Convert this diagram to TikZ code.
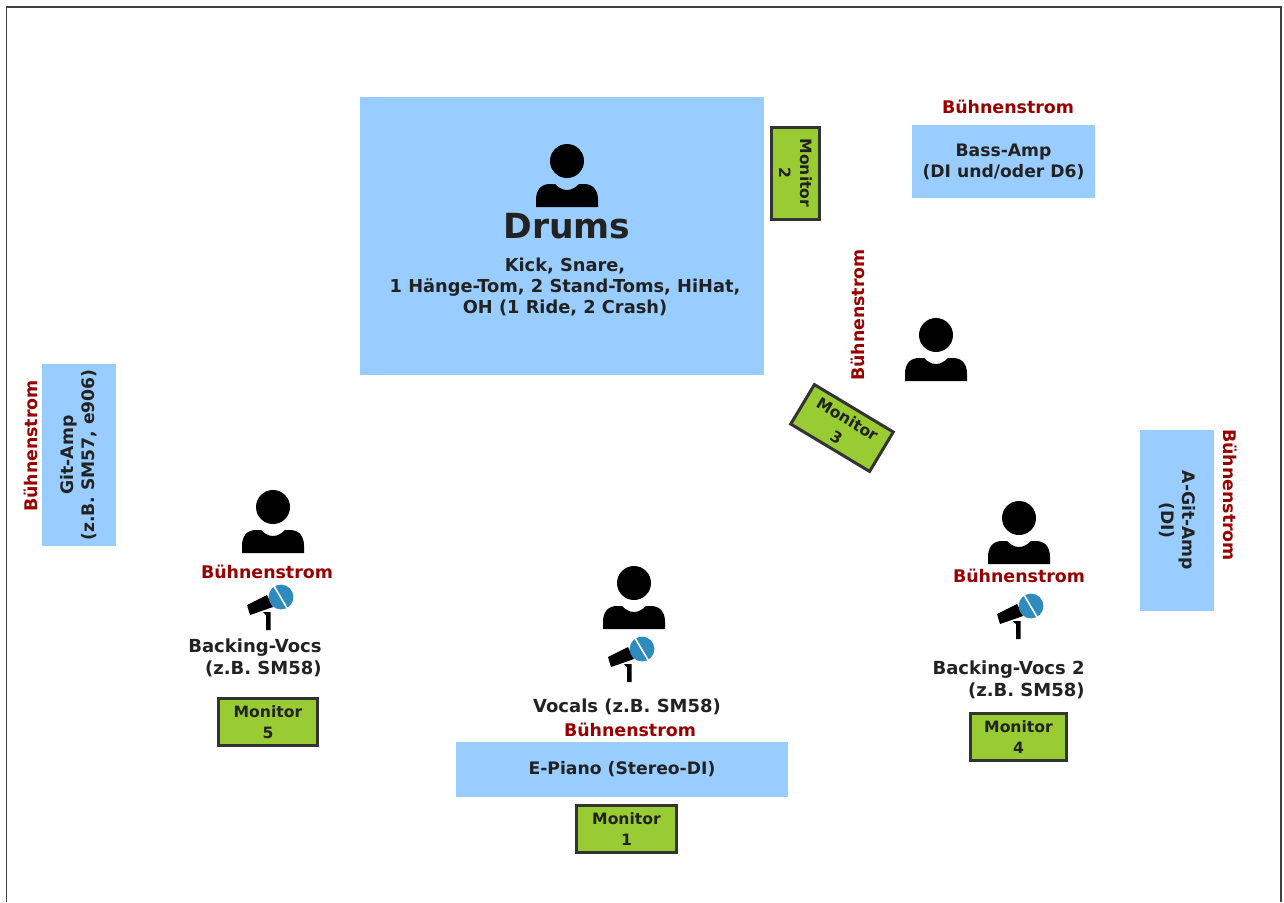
\documentclass[tikz,border=0pt]{standalone}
\usepackage{fontspec}
\setmainfont{DejaVu Sans}
\definecolor{areablue}{HTML}{99CCFF}
\definecolor{monitorgreen}{HTML}{99CC33}
\definecolor{powerred}{HTML}{990000}
\definecolor{micblue}{HTML}{2E8BC0}
\definecolor{labelblack}{HTML}{222222}
\tikzset{
  area/.style={fill=areablue, text=labelblack, font=\bfseries\fontsize{8.6}{10.5}\selectfont, align=center, inner sep=0pt},
  monitor/.style={draw=black!80, line width=1.5pt, fill=monitorgreen, text=labelblack, font=\bfseries\fontsize{7.8}{10.5}\selectfont, align=center, inner sep=0pt},
  power/.style={text=powerred, font=\bfseries\fontsize{8.7}{10}\selectfont, inner sep=0pt},
  vocal/.style={text=labelblack, font=\bfseries\fontsize{9}{11}\selectfont, inner sep=0pt},
  person/.pic={
    \fill[black] (0,0) circle (8.5pt);
    \fill[black] (-31,46) -- (-31,39) .. controls (-31,29) and (-26,23) .. (-17,23) -- (-12,23)
      .. controls (-9,26) and (-5,29) .. (0,29) .. controls (5,29) and (9,26) .. (12,23) -- (17,23)
      .. controls (26,23) and (31,29) .. (31,39) -- (31,46) -- cycle;
  },
  mic/.pic={
    \fill[black] (-34,8) -- (-14,-2) -- (-8,10) -- (-31,18) -- cycle;
    \fill[black] (-18,15) -- (-10.5,15) -- (-10.5,33) -- (-15,33) -- (-15,18) -- cycle;
    \fill[micblue] (0,0) circle (6.2pt);
    \draw[white, line width=0.8pt] (-7,-11) -- (6,11);
  }
}
\begin{document}
\begin{tikzpicture}[x=0.5pt, y=-0.5pt]
  \useasboundingbox (0,0) rectangle (1284,902);
  \draw[black!75, line width=0.7pt] (6.5,902) -- (6.5,7) -- (1281,7) -- (1281,902);

  % Buehne
  \node[area, minimum width=202pt, minimum height=139pt] (drumsbox) at (562,236) {};
  \node[area, minimum width=91.5pt, minimum height=36.5pt] (bassamp) at (1003.5,161.5) {Bass-Amp\\(DI und/oder D6)};
  \node[area, rotate=90, minimum width=91pt, minimum height=37pt] (gitamp) at (79,455) {Git-Amp\\(z.B. SM57, e906)};
  \node[area, rotate=-90, minimum width=90.5pt, minimum height=37pt] (agitamp) at (1177,520.5) {A-Git-Amp\\(DI)};
  \node[area, minimum width=166pt, minimum height=27.5pt] (epiano) at (622,769.5) {E-Piano (Stereo-DI)};

  \node[text=labelblack, font=\bfseries\fontsize{17.3}{20}\selectfont, inner sep=0pt] (drumstitle) at (567,226) {Drums};
  \node[text=labelblack, font=\bfseries\fontsize{8.9}{10.5}\selectfont, align=center, inner sep=0pt, below=0pt] (drumskit) at (565,258) {Kick, Snare,\\1 Hänge-Tom, 2 Stand-Toms, HiHat,\\OH (1 Ride, 2 Crash)};

  % Monitore
  \node[monitor, rotate=-90, minimum width=46pt, minimum height=24pt] (monitortwo) at (795.5,173) {Monitor\\2};
  \node[monitor, rotate=-31, minimum width=46pt, minimum height=23pt] (monitorthree) at (842,428) {Monitor\\3};
  \node[monitor, minimum width=49.5pt, minimum height=23.5pt] (monitorfive) at (268,722) {Monitor\\5};
  \node[monitor, minimum width=50pt, minimum height=23.5pt] (monitorone) at (626.5,829) {Monitor\\1};
  \node[monitor, minimum width=48pt, minimum height=23.5pt] (monitorfour) at (1018.5,737) {Monitor\\4};

  % Strom
  \node[power] (powerbass) at (1008,107) {Bühnenstrom};
  \node[power, rotate=90] (powerguitar) at (858,315) {Bühnenstrom};
  \node[power, rotate=90] (powergit) at (31,446) {Bühnenstrom};
  \node[power, rotate=-90] (poweragit) at (1230,495) {Bühnenstrom};
  \node[power] (powerback) at (267,572) {Bühnenstrom};
  \node[power] (powerbacktwo) at (1019,576) {Bühnenstrom};
  \node[power] (powerpiano) at (630,730) {Bühnenstrom};

  % Personen und Mikros
  \foreach \px/\py in {567/161, 936/335, 273/507, 634/583, 1019/518}
    \pic at (\px,\py) {person};
  \foreach \mx/\my in {281/597, 642/649, 1031/606}
    \pic at (\mx,\my) {mic};

  \node[vocal, align=right, anchor=north east] (backingone) at (322,638) {Backing-Vocs\\(z.B. SM58)};
  \node[vocal] (vocals) at (627,707) {Vocals (z.B. SM58)};
  \node[vocal, align=right, anchor=north east] (backingtwo) at (1085,660) {Backing-Vocs 2\\(z.B. SM58)};
\end{tikzpicture}
\end{document}
